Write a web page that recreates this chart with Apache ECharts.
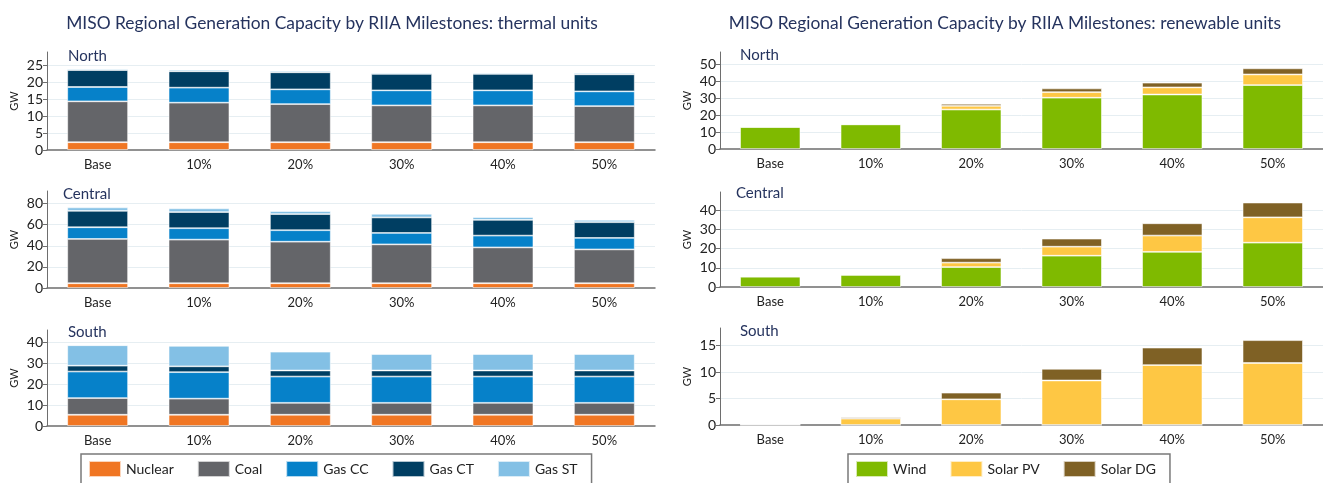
<!DOCTYPE html>
<html>
<head>
<meta charset="utf-8">
<script src="https://cdn.jsdelivr.net/npm/echarts@6/dist/echarts.min.js"></script>
<style>
html,body{margin:0;padding:0;background:#fff;}
#chart{width:1323px;height:483px;}
</style>
</head>
<body>
<div id="chart"></div>
<script>
// ---- data ----
const categories = ['Base', '10%', '20%', '30%', '40%', '50%'];
const thermalNames = ['Nuclear', 'Coal', 'Gas CC', 'Gas CT', 'Gas ST'];
const renewableNames = ['Wind', 'Solar PV', 'Solar DG'];
const regions = ['North', 'Central', 'South'];

// thermal (GW)
const northNuclear = [2.3, 2.3, 2.3, 2.3, 2.3, 2.3];
const northCoal    = [12.1, 11.7, 11.3, 10.9, 10.9, 10.7];
const northGasCC   = [4.25, 4.45, 4.35, 4.45, 4.45, 4.35];
const northGasCT   = [5.0, 4.85, 5.05, 4.85, 4.85, 5.05];
const northGasST   = [0.4, 0.5, 0.4, 0.4, 0.4, 0.4];

const centralNuclear = [4.5, 4.5, 4.5, 4.5, 4.5, 4.5];
const centralCoal    = [42.0, 41.4, 39.4, 36.9, 34.0, 32.1];
const centralGasCC   = [11.1, 10.8, 10.9, 10.8, 11.2, 10.9];
const centralGasCT   = [15.6, 15.3, 15.3, 14.7, 14.9, 14.9];
const centralGasST   = [3.2, 3.5, 2.8, 3.5, 2.6, 2.2];

const southNuclear = [5.4, 5.4, 5.4, 5.4, 5.4, 5.4];
const southCoal    = [8.0, 7.7, 5.7, 5.7, 5.7, 5.7];
const southGasCC   = [12.7, 12.7, 12.6, 12.6, 12.6, 12.6];
const southGasCT   = [2.8, 2.8, 2.9, 2.9, 2.9, 2.9];
const southGasST   = [9.8, 9.8, 9.0, 7.9, 7.9, 7.9];

// renewable (GW)
const northWind    = [13.1, 14.6, 23.4, 30.4, 32.3, 37.9];
const northSolarPV = [0, 0.2, 2.2, 3.3, 4.2, 6.3];
const northSolarDG = [0, 0.1, 1.2, 2.2, 2.8, 3.6];

const centralWind    = [5.4, 6.3, 10.4, 16.3, 18.3, 23.1];
const centralSolarPV = [0, 0.1, 2.3, 4.7, 8.5, 13.2];
const centralSolarDG = [0, 0.4, 2.3, 4.2, 6.4, 7.7];

const southWind    = [0, 0, 0, 0, 0, 0];
const southSolarPV = [0.15, 1.2, 4.85, 8.4, 11.3, 11.7];
const southSolarDG = [0, 0.25, 1.25, 2.2, 3.3, 4.3];

// axis ranges
const thermalMax = [29, 92, 46];
const thermalInterval = [5, 20, 10];
const renewableMax = [57.5, 49.5, 18.3];
const renewableInterval = [10, 10, 5];

// ---- styling ----
const FONT = 'Lato, "Open Sans", sans-serif';
const NAVY = '#25335e';
const thermalColors = ['#f07623', '#646569', '#0681c9', '#003e62', '#83c0e5'];
const renewableColors = ['#7fba00', '#fec744', '#7f6125'];

const thermalData = [
  [northNuclear, northCoal, northGasCC, northGasCT, northGasST],
  [centralNuclear, centralCoal, centralGasCC, centralGasCT, centralGasST],
  [southNuclear, southCoal, southGasCC, southGasCT, southGasST]
];
const renewableData = [
  [northWind, northSolarPV, northSolarDG],
  [centralWind, centralSolarPV, centralSolarDG],
  [southWind, southSolarPV, southSolarDG]
];

const leftGrids = [
  {left: 47, width: 608, top: 52, height: 98},
  {left: 47, width: 608, top: 191, height: 97},
  {left: 47, width: 608, top: 330, height: 96}
];
const rightGrids = [
  {left: 720, width: 606, top: 52, height: 97},
  {left: 720, width: 606, top: 192, height: 95},
  {left: 720, width: 606, top: 328, height: 97}
];

const grid = [], xAxis = [], yAxis = [], series = [], title = [];

title.push({text: 'MISO Regional Generation Capacity by RIIA Milestones: thermal units',
  left: 327, top: 10, textAlign: 'center',
  textStyle: {fontFamily: FONT, fontSize: 17.4, fontWeight: 'normal', color: NAVY}});
title.push({text: 'MISO Regional Generation Capacity by RIIA Milestones: renewable units',
  left: 1000, top: 10, textAlign: 'center',
  textStyle: {fontFamily: FONT, fontSize: 17.4, fontWeight: 'normal', color: NAVY}});

function addPanel(g, max, interval, names, colors, dataSets, region, labelLeft, labelTop) {
  const idx = grid.length;
  grid.push(Object.assign({containLabel: false}, g));
  xAxis.push({
    type: 'category', gridIndex: idx, data: categories,
    axisLine: {lineStyle: {color: '#6e6e6e', width: 1.5}},
    axisTick: {show: false},
    axisLabel: {fontFamily: FONT, fontSize: 13, color: '#222', margin: 8}
  });
  yAxis.push({
    type: 'value', gridIndex: idx, min: 0, max: max, interval: interval,
    name: 'GW', nameLocation: 'middle', nameGap: 27, nameRotate: 90,
    nameTextStyle: {fontFamily: FONT, fontSize: 11, color: '#222'},
    axisLine: {show: true, lineStyle: {color: '#6e6e6e', width: 1}},
    axisTick: {show: true, length: 4, lineStyle: {color: '#6e6e6e'}},
    axisLabel: {fontFamily: FONT, fontSize: 14, color: '#222', margin: 4, showMaxLabel: false},
    splitLine: {show: true, showMaxLine: false, showMinLine: false, lineStyle: {color: '#e6eef2', width: 1}}
  });
  title.push({text: region, left: labelLeft, top: labelTop,
    textStyle: {fontFamily: FONT, fontSize: 15, fontWeight: 'normal', color: NAVY}});
  names.forEach((n, i) => {
    series.push({
      type: 'bar', name: n, stack: 'stack' + idx,
      xAxisIndex: idx, yAxisIndex: idx,
      barWidth: '60%',
      data: dataSets[i],
      itemStyle: {color: colors[i], borderColor: 'rgba(255,255,255,0.7)', borderWidth: 0.8},
      emphasis: {disabled: true}
    });
  });
}

const leftLabelX = [63, 58, 63];
const rightLabelX = [735, 731, 735];
const labelTops = [[44, 182, 320], [43, 181, 319]];
for (let r = 0; r < 3; r++) {
  addPanel(leftGrids[r], thermalMax[r], thermalInterval[r], thermalNames, thermalColors,
    thermalData[r], regions[r], leftLabelX[r], labelTops[0][r]);
}
for (let r = 0; r < 3; r++) {
  addPanel(rightGrids[r], renewableMax[r], renewableInterval[r], renewableNames, renewableColors,
    renewableData[r], regions[r], rightLabelX[r], labelTops[1][r]);
}

const legendCommon = {
  top: 454, itemWidth: 32, itemHeight: 16, itemGap: 23, icon: 'rect',
  borderColor: '#7a7a7a', borderWidth: 1.5, borderRadius: 0,
  padding: [6, 14, 20, 7],
  textStyle: {fontFamily: FONT, fontSize: 14, color: '#222'},
  selectedMode: false
};
const option = {
  animation: false,
  backgroundColor: '#fff',
  title: title,
  grid: grid,
  xAxis: xAxis,
  yAxis: yAxis,
  series: series,
  legend: [
    Object.assign({}, legendCommon, {left: 81, data: thermalNames}),
    Object.assign({}, legendCommon, {left: 848, data: renewableNames})
  ]
};
const chart = echarts.init(document.getElementById('chart'), null, {renderer: 'canvas'});
chart.setOption(option);
</script>
</body>
</html>
